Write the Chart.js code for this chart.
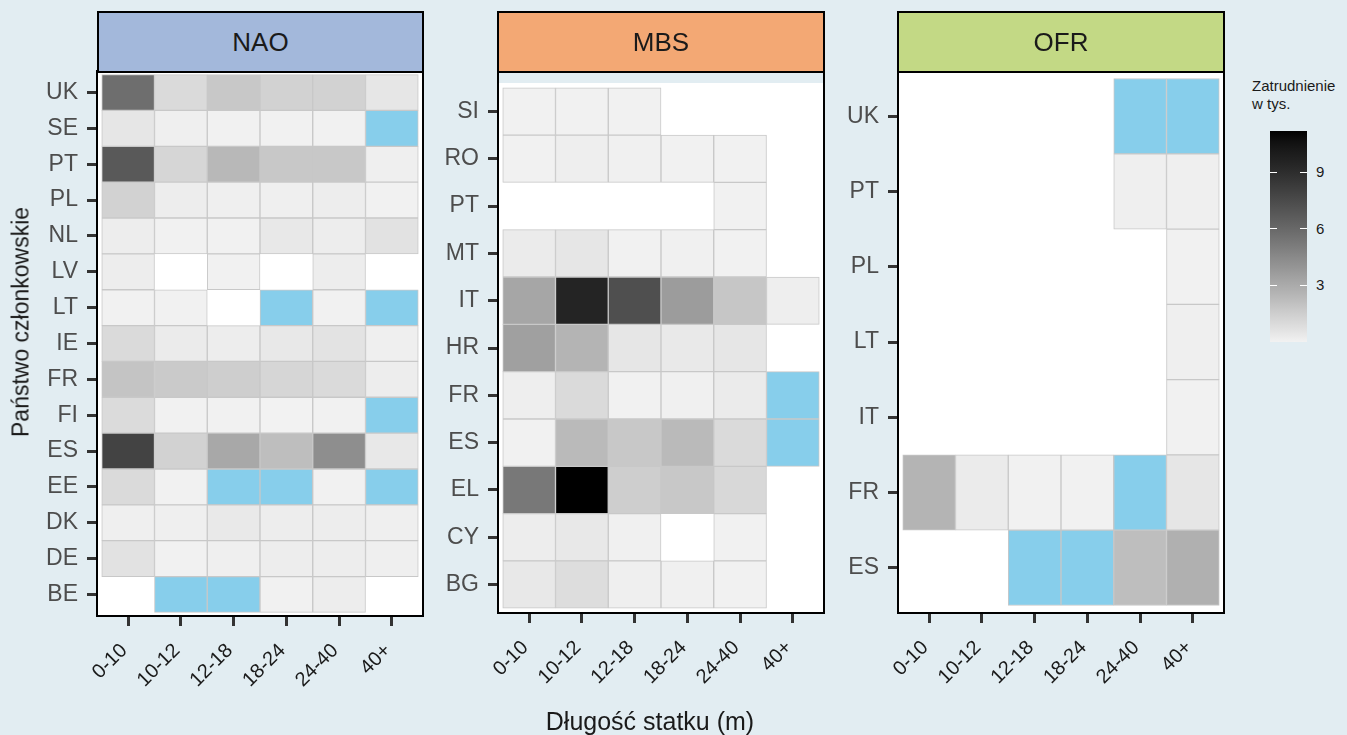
<!DOCTYPE html>
<html>
<head>
<meta charset="utf-8">
<script src="https://cdn.jsdelivr.net/npm/chart.js@4/dist/chart.umd.min.js"></script>
<style>
  html, body { margin: 0; padding: 0; }
  body { width: 1347px; height: 735px; overflow: hidden; position: relative; background: #E2EDF2; font-family: "Liberation Sans", Arial, sans-serif; }
  canvas { position: absolute; }
  .strip { position: absolute; top: 11px; height: 62px; box-sizing: border-box; border: 2px solid #000; font-size: 26px; color: #1a1a1a; display: flex; align-items: center; justify-content: center; z-index: 2; }
  .ytitle { position: absolute; left: 21px; top: 322px; transform: translate(-50%, -50%) rotate(-90deg); font-size: 23px; color: #1a1a1a; white-space: nowrap; }
  .xtitle { position: absolute; left: 0; width: 1300px; top: 709px; text-align: center; font-size: 25px; line-height: 25px; color: #1a1a1a; white-space: nowrap; }
  .legtitle { position: absolute; left: 1252px; top: 77px; font-size: 15px; line-height: 18px; color: #1a1a1a; }
  .cbar { position: absolute; left: 1270px; top: 131px; width: 37px; height: 211px; }
  .ctick { position: absolute; height: 1px; width: 7px; background: #fff; }
  .clab { position: absolute; left: 1316px; font-size: 15px; line-height: 16px; color: #1a1a1a; }
</style>
</head>
<body>
<canvas id="nao" width="430" height="705" style="left:0px;top:30px;"></canvas>
<canvas id="mbs" width="390" height="705" style="left:440px;top:30px;"></canvas>
<canvas id="ofr" width="390" height="705" style="left:840px;top:30px;"></canvas>

<div class="strip" style="left:97px;width:327px;background:#A3B8DB;">NAO</div>
<div class="strip" style="left:497px;width:328px;background:#F3A874;">MBS</div>
<div class="strip" style="left:897px;width:328px;background:#C3D985;">OFR</div>

<div class="ytitle">Państwo członkowskie</div>
<div class="xtitle">Długość statku (m)</div>
<div class="legtitle">Zatrudnienie<br>w tys.</div>
<div class="cbar" id="cbar"></div>
<div id="cticks"></div>

<script>
// ---------- data ----------
const lengthLabels = ['0-10', '10-12', '12-18', '18-24', '24-40', '40+'];
const NA = 'NA'; // cell present, value not available (drawn sky blue); null = no cell

const naoCountries = ['UK','SE','PT','PL','NL','LV','LT','IE','FR','FI','ES','EE','DK','DE','BE'];
const naoValues = [
  [5.76, 1.01, 1.76, 1.34, 1.34, 0.50],
  [0.50, 0.14, 0.05, 0.05, 0.05, NA],
  [6.77, 1.17, 2.44, 1.76, 1.76, 0.14],
  [1.34, 0.21, 0.14, 0.14, 0.21, 0.03],
  [0.21, 0.03, 0.03, 0.43, 0.21, 0.67],
  [0.21, null, 0.03, null, 0.21, null],
  [0.05, 0.03, null, NA, 0.05, NA],
  [1.01, 0.28, 0.21, 0.43, 0.60, 0.14],
  [1.92, 1.68, 1.50, 1.17, 1.01, 0.21],
  [0.93, 0.03, 0.03, 0.01, 0.03, NA],
  [7.87, 1.34, 3.14, 2.19, 4.29, 0.43],
  [1.01, 0.03, NA, NA, 0.03, NA],
  [0.14, 0.14, 0.35, 0.21, 0.21, 0.14],
  [0.67, 0.03, 0.14, 0.21, 0.21, 0.14],
  [null, NA, NA, 0.03, 0.21, null]
];

const mbsCountries = ['SI','RO','PT','MT','IT','HR','FR','ES','EL','CY','BG'];
const mbsValues = [
  [0.05, 0.05, 0.05, null, null, null],
  [0.05, 0.18, 0.10, 0.05, 0.05, null],
  [null, null, null, null, 0.05, null],
  [0.28, 0.50, 0.05, 0.10, 0.05, null],
  [3.22, 9.54, 7.26, 3.66, 1.84, 0.18],
  [3.49, 2.61, 0.50, 0.35, 0.50, null],
  [0.18, 1.01, 0.03, 0.10, 0.28, NA],
  [0.05, 2.35, 1.76, 2.35, 1.01, NA],
  [5.30, 11.2, 1.50, 1.76, 1.09, null],
  [0.21, 0.43, 0.10, null, 0.05, null],
  [0.43, 0.86, 0.14, 0.10, 0.05, null]
];

const ofrCountries = ['UK','PT','PL','LT','IT','FR','ES'];
const ofrValues = [
  [null, null, null, null, NA, NA],
  [null, null, null, null, 0.14, 0.14],
  [null, null, null, null, null, 0.05],
  [null, null, null, null, null, 0.14],
  [null, null, null, null, null, 0.05],
  [2.61, 0.28, 0.05, 0.05, NA, 0.50],
  [null, null, NA, NA, 2.19, 2.79]
];

const legendTicks = [3, 6, 9];
const legendMax = 11.2;

// ---------- colour scale (grey95 -> black, interpolated in L*) ----------
function toLin(c) { c /= 255; return c <= 0.04045 ? c / 12.92 : Math.pow((c + 0.055) / 1.055, 2.4); }
function fromLin(l) { const c = l <= 0.0031308 ? 12.92 * l : 1.055 * Math.pow(l, 1 / 2.4) - 0.055; return Math.round(Math.max(0, Math.min(1, c)) * 255); }
function lstar(Y) { return Y > 0.008856 ? 116 * Math.cbrt(Y) - 16 : 903.3 * Y; }
function yFromL(L) { return L > 8 ? Math.pow((L + 16) / 116, 3) : L / 903.3; }
const L_LOW = lstar(toLin(242));
function fillColor(v) {
  const t = Math.max(0, Math.min(1, v / legendMax));
  const g = fromLin(yFromL(L_LOW * (1 - t)));
  return 'rgb(' + g + ',' + g + ',' + g + ')';
}

// ---------- panel box plugin ----------
const panelBox = {
  id: 'panelBox',
  beforeDraw(chart, args, opts) {
    const a = chart.chartArea, ctx = chart.ctx;
    ctx.save();
    ctx.fillStyle = '#ffffff';
    ctx.fillRect(a.left, a.top, a.right - a.left, a.bottom - a.top);
    ctx.restore();
  },
  afterDraw(chart, args, opts) {
    const a = chart.chartArea, ctx = chart.ctx;
    const ext = opts.topExtend || 0;
    ctx.save();
    ctx.strokeStyle = '#000000';
    ctx.lineWidth = 2;
    ctx.strokeRect(a.left, a.top - ext, a.right - a.left, a.bottom - a.top + ext);
    ctx.restore();
  }
};

function makePanel(id, countries, values, g) {
  const cells = [];
  values.forEach((row, r) => row.forEach((v, c) => {
    if (v !== null) cells.push({ x: c, y: [r - 0.5, r + 0.5], v: v });
  }));
  const ex = 0.09, ey = 0.1;
  const fontFam = '"Liberation Sans", Arial, sans-serif';
  return new Chart(document.getElementById(id), {
    type: 'bar',
    data: {
      datasets: [{
        data: cells,
        backgroundColor: ctx => (ctx.raw && ctx.raw.v === NA) ? '#87CEEB' : fillColor(ctx.raw ? ctx.raw.v : 0),
        borderColor: '#C8C8C8',
        borderWidth: 1,
        borderSkipped: false,
        barPercentage: 1,
        categoryPercentage: 1,
        grouped: false
      }]
    },
    options: {
      responsive: false,
      animation: false,
      events: [],
      layout: { padding: { top: g.padTop, right: g.padRight, left: 0, bottom: 0 } },
      plugins: { legend: { display: false }, tooltip: { enabled: false }, panelBox: { topExtend: g.topExtend || 0 } },
      scales: {
        x: {
          type: 'linear', offset: false, min: -0.5 - ex, max: lengthLabels.length - 0.5 + ex,
          afterBuildTicks: s => { s.ticks = lengthLabels.map((_, i) => ({ value: i })); },
          afterFit: s => { s.height = g.xHeight; },
          ticks: { callback: v => lengthLabels[v] + ' ', minRotation: 45, maxRotation: 45, autoSkip: false,
                   font: { family: fontFam, size: 20 }, color: '#1a1a1a', padding: 9 },
          grid: { offset: false, drawOnChartArea: false, drawTicks: true, tickLength: 10, tickWidth: 3, tickColor: '#333333' },
          border: { display: false }
        },
        y: {
          type: 'linear', offset: false, reverse: true, min: -0.5 - ey, max: countries.length - 0.5 + ey,
          afterBuildTicks: s => { s.ticks = countries.map((_, i) => ({ value: i })); },
          afterFit: s => { s.width = g.yWidth; },
          ticks: { callback: v => countries[v], autoSkip: false,
                   font: { family: fontFam, size: 23 }, color: '#4D4D4D', padding: 9 },
          grid: { offset: false, drawOnChartArea: false, drawTicks: true, tickLength: 10, tickWidth: 3, tickColor: '#333333' },
          border: { display: false }
        }
      }
    },
    plugins: [panelBox]
  });
}

makePanel('nao', naoCountries, naoValues, { padTop: 41, padRight: 7, yWidth: 97, xHeight: 119 });
makePanel('mbs', mbsCountries, mbsValues, { padTop: 53, padRight: 6, yWidth: 58, xHeight: 122, topExtend: 12 });
makePanel('ofr', ofrCountries, ofrValues, { padTop: 41, padRight: 6, yWidth: 58, xHeight: 122 });

// ---------- colour bar legend ----------
(function () {
  const stops = [];
  for (let i = 0; i <= 20; i++) {
    const v = legendMax * i / 20;
    stops.push(fillColor(v) + ' ' + (i * 5) + '%');
  }
  document.getElementById('cbar').style.background = 'linear-gradient(to top, ' + stops.join(', ') + ')';
  const top = 131, h = 211;
  const holder = document.getElementById('cticks');
  legendTicks.forEach(t => {
    const y = top + h - t / legendMax * h;
    holder.insertAdjacentHTML('beforeend',
      '<div class="ctick" style="left:1270px;top:' + (y - 0.5) + 'px"></div>' +
      '<div class="ctick" style="left:1300px;top:' + (y - 0.5) + 'px"></div>' +
      '<div class="clab" style="top:' + (y - 8) + 'px">' + t + '</div>');
  });
})();
</script>
</body>
</html>
